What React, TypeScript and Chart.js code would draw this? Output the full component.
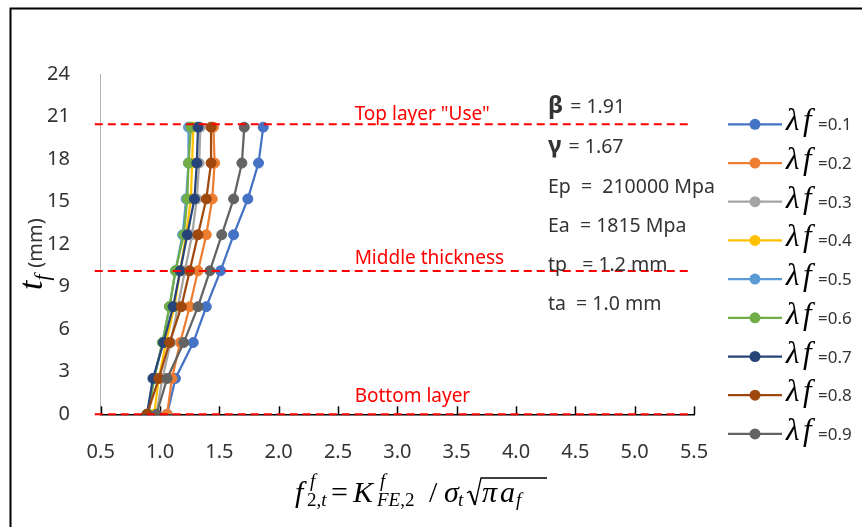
import React, { useEffect, useRef } from "react";
import { Chart, registerables } from "chart.js";

Chart.register(...registerables);

// Thickness positions through the layer, tf (mm)
const thicknessMm = [0, 2.53, 5.06, 7.59, 10.12, 12.66, 15.19, 17.72, 20.25];

// Normalised stress intensity f2,t along the thickness for each λf
const lambdaLabels = ["0.1", "0.2", "0.3", "0.4", "0.5", "0.6", "0.7", "0.8", "0.9"];
const f2tLambda01 = [1.06, 1.13, 1.28, 1.39, 1.51, 1.62, 1.74, 1.83, 1.87];
const f2tLambda02 = [1.06, 1.1, 1.17, 1.25, 1.32, 1.39, 1.44, 1.46, 1.45];
const f2tLambda03 = [0.97, 1.02, 1.09, 1.15, 1.21, 1.27, 1.31, 1.33, 1.34];
const f2tLambda04 = [0.95, 0.99, 1.05, 1.12, 1.17, 1.22, 1.26, 1.27, 1.28];
const f2tLambda05 = [0.9, 0.95, 1.02, 1.08, 1.13, 1.19, 1.22, 1.24, 1.24];
const f2tLambda06 = [0.9, 0.95, 1.02, 1.08, 1.13, 1.2, 1.23, 1.24, 1.26];
const f2tLambda07 = [0.89, 0.94, 1.03, 1.11, 1.17, 1.23, 1.29, 1.31, 1.32];
const f2tLambda08 = [0.89, 0.99, 1.08, 1.18, 1.25, 1.32, 1.39, 1.43, 1.43];
const f2tLambda09 = [0.97, 1.06, 1.2, 1.32, 1.42, 1.52, 1.62, 1.69, 1.71];

const seriesValues = [
  f2tLambda01, f2tLambda02, f2tLambda03, f2tLambda04, f2tLambda05,
  f2tLambda06, f2tLambda07, f2tLambda08, f2tLambda09,
];

const seriesColors = [
  "#4472C4", "#ED7D31", "#A5A5A5", "#FFC000", "#5B9BD5",
  "#70AD47", "#264478", "#9E480E", "#636363",
];

// Axis ranges
const xMin = 0.5;
const xMax = 5.5;
const xStep = 0.5;
const yMin = 0;
const yMax = 24;
const yStep = 3;

// Reference layers through the thickness
const layerLevels = [20.45, 10.1, 0];
const layerNames = ['Top layer "Use"', "Middle thickness", "Bottom layer"];
const layerLineStart = 0.45;
const layerLineEnd = 5.47;

// Material / geometry parameters
const parameterSymbols = [["β", " = 1.91"], ["γ", " = 1.67"]];
const parameterLines = ["Ep  =  210000 Mpa", "Ea  = 1815 Mpa", "tp   = 1.2 mm", "ta  = 1.0 mm"];

const SANS = '"Noto Sans", "Open Sans", sans-serif';
const SERIF = '"Liberation Serif", "Times New Roman", serif';
const TEXT = "#333333";

type Run = { t: string; it: boolean };
type Piece = { runs: Run[]; size: number; x: number; dy: number };

const serifFont = (size: number, it: boolean) => `${it ? "italic " : ""}${size}px ${SERIF}`;

function drawRuns(ctx: CanvasRenderingContext2D, runs: Run[], size: number, x: number, y: number) {
  for (const r of runs) {
    ctx.font = serifFont(size, r.it);
    ctx.fillText(r.t, x, y);
    x += ctx.measureText(r.t).width;
  }
}

// f2,t^f = K^f_FE,2 / σt √(π af), laid out from its left edge
function drawFormula(ctx: CanvasRenderingContext2D, left: number, baseline: number) {
  const S = 30;
  const s = 19;
  const pieces: Piece[] = [
    { runs: [{ t: "f", it: true }], size: S, x: 0, dy: 0 },
    { runs: [{ t: "f", it: true }], size: s, x: 15, dy: -15 },
    { runs: [{ t: "2,", it: false }, { t: "t", it: true }], size: s, x: 12, dy: 4 },
    { runs: [{ t: "=", it: false }], size: S, x: 36, dy: 0 },
    { runs: [{ t: "K", it: true }], size: S, x: 58, dy: 0 },
    { runs: [{ t: "f", it: true }], size: s, x: 85, dy: -15 },
    { runs: [{ t: "FE", it: true }, { t: ",2", it: false }], size: s, x: 82, dy: 4 },
    { runs: [{ t: "/", it: false }], size: S, x: 134, dy: 0 },
    { runs: [{ t: "σ", it: true }], size: S, x: 149, dy: 0 },
    { runs: [{ t: "t", it: true }], size: s, x: 163, dy: 4 },
    { runs: [{ t: "π", it: true }], size: S, x: 187, dy: 0 },
    { runs: [{ t: "a", it: true }], size: S, x: 205, dy: 0 },
    { runs: [{ t: "f", it: true }], size: s, x: 221, dy: 4 },
  ];
  ctx.fillStyle = "#000";
  ctx.textAlign = "left";
  ctx.textBaseline = "alphabetic";
  for (const p of pieces) drawRuns(ctx, p.runs, p.size, left + p.x, baseline + p.dy);

  // radical sign over π af
  const rx = left + 172;
  const top = baseline - 24;
  ctx.save();
  ctx.strokeStyle = "#000";
  ctx.lineJoin = "miter";
  ctx.lineWidth = 1.3;
  ctx.beginPath();
  ctx.moveTo(rx, baseline - 9);
  ctx.lineTo(rx + 3, baseline - 11);
  ctx.stroke();
  ctx.lineWidth = 2.2;
  ctx.beginPath();
  ctx.moveTo(rx + 3, baseline - 11);
  ctx.lineTo(rx + 8, baseline + 3);
  ctx.stroke();
  ctx.lineWidth = 1.3;
  ctx.beginPath();
  ctx.moveTo(rx + 8, baseline + 3);
  ctx.lineTo(rx + 14, top);
  ctx.lineTo(left + 252, top);
  ctx.stroke();
  ctx.restore();
}

const decorPlugin = {
  id: "decor",
  beforeDatasetsDraw(chart: Chart) {
    const ctx = chart.ctx;
    const xs = chart.scales.x;
    const bottom = chart.chartArea.bottom;
    // inward tick marks on the horizontal axis
    ctx.save();
    ctx.strokeStyle = "#000";
    ctx.lineWidth = 1.5;
    for (const t of xs.ticks) {
      const px = Math.round(xs.getPixelForValue(t.value)) + 0.5;
      ctx.beginPath();
      ctx.moveTo(px, bottom);
      ctx.lineTo(px, bottom - 8);
      ctx.stroke();
    }
    ctx.restore();
  },
  afterDraw(chart: Chart) {
    const ctx = chart.ctx;
    const xs = chart.scales.x;
    const ys = chart.scales.y;
    ctx.save();

    // outer frame
    ctx.strokeStyle = "#000";
    ctx.lineWidth = 2;
    ctx.beginPath();
    ctx.moveTo(10.5, chart.height);
    ctx.lineTo(10.5, 8.5);
    ctx.lineTo(chart.width, 8.5);
    ctx.stroke();

    // layer reference lines with their names
    ctx.strokeStyle = "#FF0000";
    ctx.lineWidth = 2;
    ctx.setLineDash([8, 5]);
    const labelOffsets = [4, 7, 12];
    layerLevels.forEach((lv, i) => {
      const py = ys.getPixelForValue(lv);
      ctx.beginPath();
      ctx.moveTo(xs.getPixelForValue(layerLineStart), py);
      ctx.lineTo(xs.getPixelForValue(layerLineEnd), py);
      ctx.stroke();
      ctx.fillStyle = "#FF0000";
      ctx.font = `19px ${SANS}`;
      ctx.textAlign = "left";
      ctx.textBaseline = "alphabetic";
      ctx.fillText(layerNames[i], xs.getPixelForValue(2.64), py - labelOffsets[i]);
    });
    ctx.setLineDash([]);

    // parameter block
    const px0 = 548;
    const baselines = [113, 153, 193, 232, 271, 310];
    ctx.fillStyle = TEXT;
    ctx.textAlign = "left";
    parameterSymbols.forEach(([sym, rest], i) => {
      ctx.font = `bold 24px ${SANS}`;
      ctx.fillText(sym, px0, baselines[i]);
      const w = ctx.measureText(sym).width;
      ctx.font = `19.5px ${SANS}`;
      ctx.fillText(rest, px0 + w + 2, baselines[i]);
    });
    parameterLines.forEach((line, i) => {
      ctx.font = `19.5px ${SANS}`;
      ctx.fillText(line, px0, baselines[i + 2]);
    });

    // legend
    chart.data.datasets.forEach((ds: any, i: number) => {
      const cy = 124.3 + i * 38.7;
      const color = ds.borderColor as string;
      ctx.strokeStyle = color;
      ctx.lineWidth = 2.25;
      ctx.beginPath();
      ctx.moveTo(728, cy);
      ctx.lineTo(782, cy);
      ctx.stroke();
      ctx.fillStyle = color;
      ctx.beginPath();
      ctx.arc(755, cy, 5.5, 0, Math.PI * 2);
      ctx.fill();
      ctx.fillStyle = "#000";
      ctx.font = `italic 31px ${SERIF}`;
      ctx.fillText("λ", 786, cy + 6);
      ctx.fillText("f", 803, cy + 6);
      ctx.fillStyle = TEXT;
      ctx.font = `17px ${SANS}`;
      ctx.fillText("=" + ds.label, 818, cy + 6);
    });

    // vertical axis title: tf (mm)
    ctx.save();
    ctx.translate(42, 290);
    ctx.rotate(-Math.PI / 2);
    ctx.fillStyle = "#000";
    ctx.font = `italic 34px ${SERIF}`;
    ctx.fillText("t", 0, 0);
    let tx = ctx.measureText("t").width;
    ctx.font = `italic 21px ${SERIF}`;
    ctx.fillText("f", tx, 7);
    tx += ctx.measureText("f").width + 7;
    ctx.fillStyle = TEXT;
    ctx.font = `20px ${SANS}`;
    ctx.fillText("(mm)", tx, 0);
    ctx.restore();

    // horizontal axis title
    drawFormula(ctx, 295, 502);

    ctx.restore();
  },
};

export default function App() {
  const ref = useRef<HTMLCanvasElement>(null);
  useEffect(() => {
    const canvas = ref.current;
    if (!canvas) return;
    const chart = new Chart(canvas, {
      type: "scatter",
      data: {
        datasets: seriesValues.map((vals, i) => ({
          label: lambdaLabels[i],
          data: thicknessMm.map((t, k) => ({ x: vals[k], y: t })),
          showLine: true,
          borderColor: seriesColors[i],
          backgroundColor: seriesColors[i],
          pointBorderColor: seriesColors[i],
          pointBackgroundColor: seriesColors[i],
          borderWidth: 2.25,
          pointRadius: 5,
          pointBorderWidth: 1,
          order: seriesValues.length - 1 - i,
        })),
      },
      options: {
        responsive: false,
        animation: false,
        events: [],
        layout: { padding: { left: 0, right: 168, top: 74, bottom: 0 } },
        plugins: { legend: { display: false }, tooltip: { enabled: false } },
        scales: {
          x: {
            type: "linear",
            min: xMin,
            max: xMax,
            ticks: {
              stepSize: xStep,
              callback: (v: any) => Number(v).toFixed(1),
              font: { family: SANS, size: 20 },
              color: TEXT,
              padding: 26,
              maxRotation: 0,
            },
            grid: { display: false, drawTicks: false },
            border: { color: "#000", width: 1.5 },
            afterFit: (s: any) => {
              s.height = 527 - 414.3;
            },
          },
          y: {
            type: "linear",
            min: yMin,
            max: yMax,
            ticks: {
              stepSize: yStep,
              font: { family: SANS, size: 20 },
              color: TEXT,
              padding: 30.7,
            },
            grid: { display: false, drawTicks: false },
            border: { color: "#b5b5b5", width: 1 },
            afterFit: (s: any) => {
              s.width = 100.7;
            },
          },
        },
      },
      plugins: [decorPlugin],
    } as any);
    return () => chart.destroy();
  }, []);
  return (
    <div style={{ position: "absolute", left: 0, top: 0, width: 862, height: 527, background: "#fff" }}>
      <canvas ref={ref} width={862} height={527} style={{ display: "block", width: 862, height: 527 }} />
    </div>
  );
}
